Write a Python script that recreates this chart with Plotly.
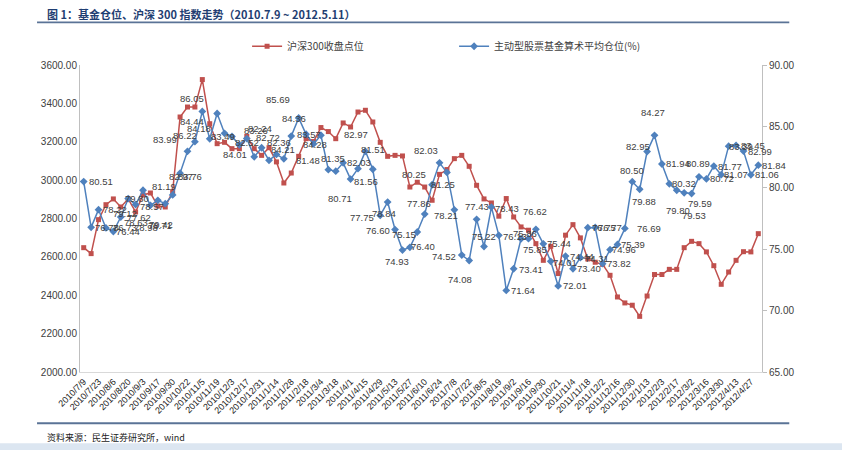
import plotly.graph_objects as go

# ---------------- data ----------------
tick_labels = ["2010/7/9", "2010/7/23", "2010/8/6", "2010/8/20", "2010/9/3", "2010/9/17",
               "2010/9/30", "2010/10/22", "2010/11/5", "2010/11/19", "2010/12/3", "2010/12/17",
               "2010/12/31", "2011/1/14", "2011/1/28", "2011/2/18", "2011/3/4", "2011/3/18",
               "2011/4/1", "2011/4/15", "2011/4/29", "2011/5/13", "2011/5/27", "2011/6/10",
               "2011/6/24", "2011/7/8", "2011/7/22", "2011/8/5", "2011/8/19", "2011/9/2",
               "2011/9/16", "2011/9/30", "2011/10/21", "2011/11/4", "2011/11/18", "2011/12/2",
               "2011/12/16", "2011/12/30", "2012/1/13", "2012/2/3", "2012/2/17", "2012/3/2",
               "2012/3/16", "2012/3/30", "2012/4/13", "2012/4/27"]

hs300_close = [2648, 2617, 2794, 2872, 2902, 2860, 2902, 2834, 2923, 2933,
               2865, 2860, 2940, 3329, 3381, 3381, 3524, 3294, 3190, 3197,
               3164, 3164, 3228, 3164, 3129, 3169, 3095, 2985, 3037, 3124,
               3216, 3201, 3274, 3253, 3216, 3298, 3277, 3355, 3364, 3303,
               3197, 3124, 3129, 3126, 2964, 2989, 2964, 2895, 3030, 3055,
               3112, 3129, 3072, 2973, 2902, 2881, 2812, 2904, 2808, 2756,
               2739, 2669, 2582, 2655, 2513, 2713, 2768, 2699, 2589, 2572,
               2561, 2504, 2391, 2360, 2348, 2290, 2396, 2508, 2508, 2535,
               2535, 2648, 2681, 2669, 2626, 2554, 2457, 2521, 2582, 2627,
               2626, 2721]

fund_position = [80.51, 76.78, 78.22, 76.73, 76.44, 77.62, 79.12, 78.63, 79.80, 78.57,
                 78.98, 78.71, 79.42, 81.19, 82.97, 83.76, 86.22, 83.99, 86.05, 84.44,
                 84.18, 83.49, 84.01, 82.52, 83.26, 82.24, 82.72, 82.36, 84.21, 85.69,
                 84.36, 83.57, 84.28, 81.48, 81.35, 82.03, 80.71, 81.56, 82.97, 81.51,
                 77.75, 78.84, 76.60, 74.93, 75.15, 76.40, 77.86, 80.25, 82.03, 81.25,
                 78.21, 74.52, 74.08, 77.43, 75.22, 78.43, 76.13, 71.64, 73.41, 75.85,
                 75.86, 76.62, 75.44, 74.01, 72.01, 74.44, 73.40, 74.31, 76.75, 76.77,
                 73.82, 74.96, 75.39, 76.69, 80.50, 79.88, 82.95, 84.27, 81.94, 80.32,
                 79.80, 79.59, 79.53, 80.89, 80.72, 81.77, 81.07, 83.39, 83.45, 82.99,
                 81.06, 81.84]

# ---------------- label offsets (style, pixels; dy positive = downward) ----------------
label_dx = [17, 16, 16, 19, 15, 18, -3, 0, -6, 2,
            -12, -5, -12, -16, -6, -5, -17, -45, -25, -33,
            -33, -16, -12, -7, -6, -9, -8, -5, -8, -21,
            -12, -5, -6, -20, -3, 16, -11, 8, -9, 0,
            -18, -4, -17, -5, -6, 6, -6, -18, -14, -4,
            -8, -18, -9, 0, 0, 16, 16, 17, 17, 14,
            -3, -1, 16, 14, 17, 16, 16, 17, 16, 15,
            16, 14, 16, 24, 0, 4, -9, -2, 16, 15,
            1, 16, 2, -1, 16, 16, 15, 12, 17, 17,
            16, 16]
label_dy = [0, 0, 0, 0, 0, 0, 15, 18, 8, 1,
            27, 22, 30, 13, 25, 35, 24, 1, -15, -12,
            -8, -8, 16, -14, -17, -32, -17, -16, 13, -18,
            -16, -9, 9, -9, -13, 0, 19, 13, -17, -20,
            2, 11, 1, 11, -13, 14, -11, -10, -12, 12,
            6, 1, 19, -13, -10, 1, 1, 0, 1, 11,
            -5, -18, 0, 1, 0, 0, 0, 1, 0, 0,
            0, 0, 0, 0, -11, 12, -5, -23, 0, 0,
            20, 11, 22, -13, 0, 0, 0, 0, 0, 0,
            0, 0]

RED = "#c0504d"
BLUE = "#4f81bd"
idx = list(range(len(hs300_close)))

fig = go.Figure()
fig.add_trace(go.Scatter(
    x=idx, y=hs300_close, name="沪深300收盘点位", mode="lines+markers",
    line=dict(color=RED, width=1.5), marker=dict(symbol="square", size=5, color=RED),
    yaxis="y"))
fig.add_trace(go.Scatter(
    x=idx, y=fund_position, name="主动型股票基金算术平均仓位(%)", mode="lines+markers",
    line=dict(color=BLUE, width=1.5), marker=dict(symbol="diamond", size=6, color=BLUE),
    yaxis="y2"))

annotations = []
for i, v in enumerate(fund_position):
    annotations.append(dict(
        x=i, y=v, xref="x", yref="y2", text=f"{v:.2f}", showarrow=False,
        xshift=label_dx[i], yshift=-label_dy[i],
        font=dict(family="Liberation Sans, Arial", size=9.5, color="#404040")))

# title / source
annotations.append(dict(
    x=-0.052, y=1.165, xref="paper", yref="paper", xanchor="left", yanchor="middle",
    text="<b>图 1：基金仓位、沪深 300 指数走势（2010.7.9 ~ 2012.5.11）</b>",
    showarrow=False, font=dict(family="Noto Sans CJK SC", size=11, color="#1f3e72")))
annotations.append(dict(
    x=-0.052, y=-0.213, xref="paper", yref="paper", xanchor="left", yanchor="middle",
    text="资料来源：民生证券研究所，wind",
    showarrow=False, font=dict(family="Noto Sans CJK SC", size=9, color="#222222")))

shapes = [
    dict(type="rect", xref="paper", yref="paper", x0=-0.063, x1=1.04, y0=1.136, y1=1.142,
         fillcolor="#5a7396", line=dict(width=0)),
    dict(type="rect", xref="paper", yref="paper", x0=-0.063, x1=1.04, y0=-0.164, y1=-0.170,
         fillcolor="#5a7396", line=dict(width=0)),
    dict(type="rect", xref="paper", yref="paper", x0=-0.2, x1=1.2, y0=-0.232, y1=-0.3,
         fillcolor="#dce6f1", line=dict(width=0), layer="below"),
]

fig.update_layout(
    width=842, height=450,
    margin=dict(l=80, r=80, t=65, b=78, pad=0),
    paper_bgcolor="white", plot_bgcolor="white",
    showlegend=True,
    legend=dict(orientation="h", x=0.245, y=1.061, xanchor="left", yanchor="middle",
                font=dict(family="Noto Sans CJK SC", size=10, color="#404040"),
                entrywidth=162, entrywidthmode="pixels", bgcolor="rgba(0,0,0,0)",
                itemwidth=30),
    xaxis=dict(range=[-0.5, len(idx) - 0.5], tickmode="array",
               tickvals=[2 * k for k in range(len(tick_labels))], ticktext=tick_labels,
               tickangle=-45, tickfont=dict(family="Liberation Sans, Arial", size=9, color="#222222"),
               showgrid=False, zeroline=False, showline=True, linecolor="#d9d9d9", ticks=""),
    yaxis=dict(range=[2000, 3600], dtick=200, tickformat=".2f", showgrid=False,
               zeroline=False, showline=True, linecolor="#bfbfbf", linewidth=1,
               ticks="", tickfont=dict(family="Liberation Sans, Arial", size=10, color="#404040")),
    yaxis2=dict(range=[65, 90], dtick=5, tickformat=".2f", overlaying="y", side="right",
                showgrid=False, zeroline=False, showline=True, linecolor="#bfbfbf", linewidth=1,
                ticks="outside", ticklen=4, tickcolor="#bfbfbf",
                tickfont=dict(family="Liberation Sans, Arial", size=10, color="#404040")),
    annotations=annotations,
    shapes=shapes,
)

fig.write_html("out.html")
